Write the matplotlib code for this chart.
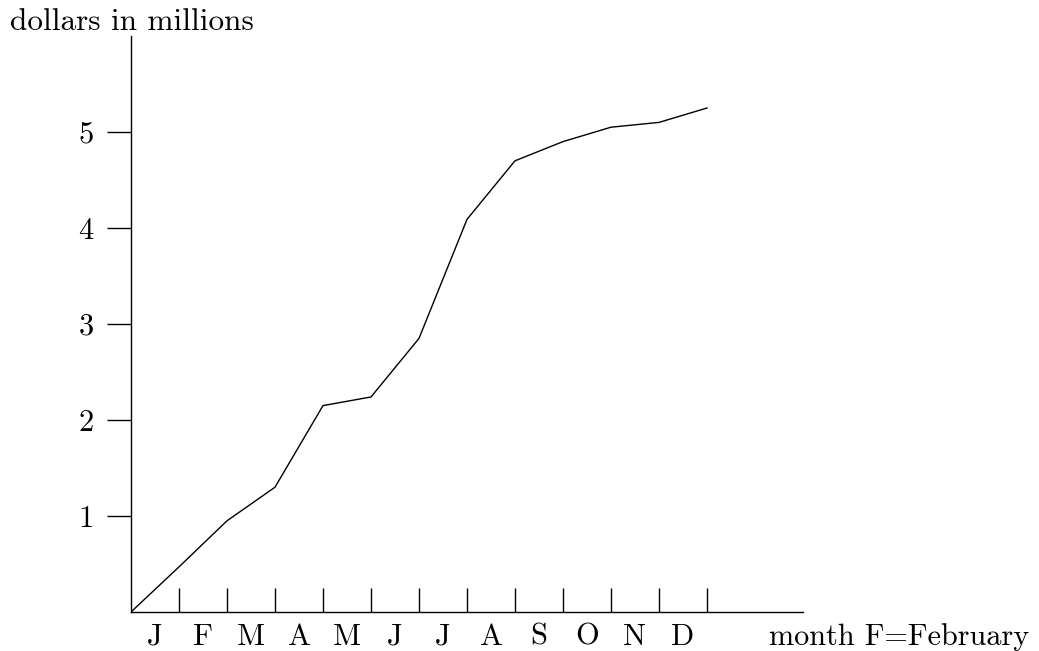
import matplotlib
matplotlib.use("Agg")
import matplotlib.pyplot as plt
from matplotlib.transforms import offset_copy

plt.rcParams['font.family'] = ['cmr10', 'DejaVu Serif']
plt.rcParams['axes.unicode_minus'] = False
plt.rcParams['mathtext.fontset'] = 'cm'

months = ['J', 'F', 'M', 'A', 'M', 'J', 'J', 'A', 'S', 'O', 'N', 'D']
month_index = [0, 1, 2, 3, 4, 5, 6, 7, 8, 9, 10, 11, 12]
dollars = [0, 0.47, 0.95, 1.30, 2.15, 2.24, 2.85, 4.09, 4.70, 4.90, 5.05, 5.10, 5.25]
y_ticks = [1, 2, 3, 4, 5]

FS = 22
W, H = 1039, 651
fig = plt.figure(figsize=(W / 100, H / 100), dpi=100)
x0, y0 = 131, 612
ax = fig.add_axes([x0 / W, (H - y0) / H, 672 / W, 576 / H])
ax.set_xlim(0, 14)
ax.set_ylim(0, 6)

ax.plot(month_index, dollars, color='black', lw=1.0, solid_joinstyle='miter')

for s in ['top', 'right']:
    ax.spines[s].set_visible(False)
for s in ['left', 'bottom']:
    ax.spines[s].set_linewidth(1.0)

ax.set_yticks(y_ticks)
ax.set_yticklabels([str(v) for v in y_ticks])
ax.tick_params(axis='y', direction='out', length=17, width=1.0, pad=10, labelsize=FS)

ax.set_xticks(month_index[1:])
ax.set_xticklabels([])
ax.tick_params(axis='x', which='major', direction='in', length=17, width=1.0)
ax.set_xticks([i + 0.5 for i in range(12)], minor=True)
ax.set_xticklabels(months, minor=True)
ax.tick_params(axis='x', which='minor', length=0, pad=8, labelsize=FS)

ax.text(13.29, 0, 'month F=February', transform=offset_copy(ax.transData, fig=fig, x=0, y=-8, units='points'),
        ha='left', va='top', fontsize=21.8)

fig.text(10 / W, 1 - 30 / H, 'dollars in millions', ha='left', va='baseline', fontsize=22.5)

fig.savefig('out.png', dpi=100)
